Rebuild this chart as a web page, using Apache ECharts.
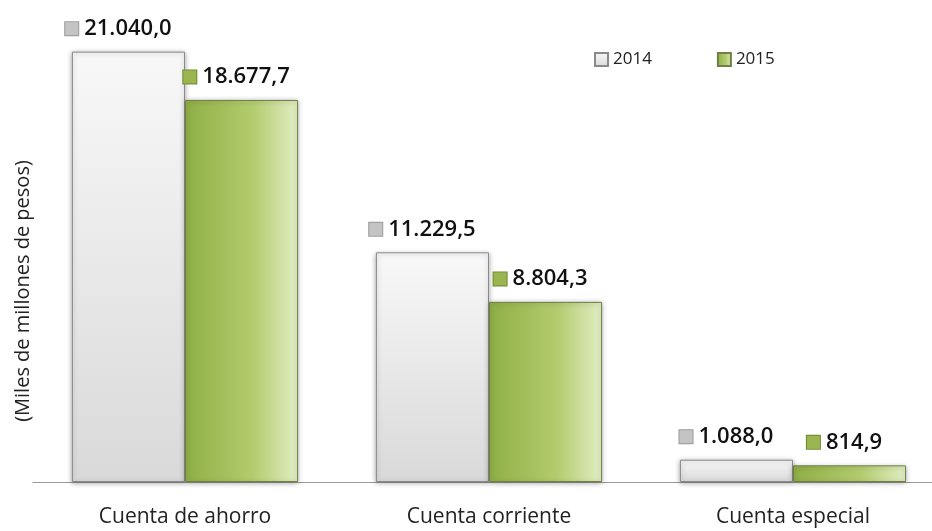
<!DOCTYPE html>
<html>
<head>
<meta charset="utf-8">
<script src="https://cdn.jsdelivr.net/npm/echarts@6/dist/echarts.min.js"></script>
<style>
  html, body { margin: 0; padding: 0; background: #fff; }
  #chart { width: 932px; height: 531px; }
</style>
</head>
<body>
<div id="chart"></div>
<script>
  var categories = ['Cuenta de ahorro', 'Cuenta corriente', 'Cuenta especial'];
  var seriesNames = ['2014', '2015'];
  var values2014 = [21040.0, 11229.5, 1088.0];
  var values2015 = [18677.7, 8804.3, 814.9];
  var yTitle = '(Miles de millones de pesos)';

  var font = '"Open Sans", sans-serif';

  // 21040 -> "21.040,0"
  function fmt(v) {
    var parts = v.toFixed(1).split('.');
    return parts[0].replace(/\B(?=(\d{3})+(?!\d))/g, '.') + ',' + parts[1];
  }

  var grayFill = new echarts.graphic.LinearGradient(0, 0, 0, 1, [
    {offset: 0, color: '#f8f8f8'},
    {offset: 1, color: '#d9d9d9'}
  ]);
  var greenFill = new echarts.graphic.LinearGradient(0, 0, 1, 0, [
    {offset: 0, color: '#8fae45'},
    {offset: 0.6, color: '#b3cc6e'},
    {offset: 1, color: '#e2edc4'}
  ]);

  function makeLabel(iconColor, iconBorder, dx) {
    return {
      show: true,
      position: 'top',
      distance: 12,
      offset: [dx, 0],
      formatter: function (p) { return '{i|}{v|' + fmt(p.value) + '}'; },
      rich: {
        i: {width: 13, height: 13, backgroundColor: iconColor, borderColor: iconBorder, borderWidth: 1},
        v: {fontFamily: font, fontSize: 22, fontWeight: 600, color: '#111', padding: [0, 0, 0, 6]}
      }
    };
  }

  var chart = echarts.init(document.getElementById('chart'));
  chart.setOption({
    animation: false,
    backgroundColor: '#fff',
    grid: {left: 33, width: 912, top: 32, bottom: 49, outerBoundsMode: 'none', containLabel: false},
    legend: {
      left: 594, top: 51, padding: 0,
      itemWidth: 13, itemHeight: 13, itemGap: 65,
      icon: 'rect',
      data: seriesNames,
      textStyle: {fontFamily: font, fontSize: 17, color: '#222'}
    },
    graphic: [{
      type: 'text',
      x: 23, y: 291,
      rotation: Math.PI / 2,
      style: {text: yTitle, font: '20px "Open Sans", sans-serif', fill: '#222',
        align: 'center', verticalAlign: 'middle'}
    }],
    xAxis: {
      type: 'category',
      data: categories,
      axisLine: {lineStyle: {color: '#999', width: 1}},
      axisTick: {show: false},
      axisLabel: {fontFamily: font, fontSize: 21, color: '#222', margin: 25}
    },
    yAxis: {
      type: 'value',
      min: 0, max: 22000,
      axisLine: {show: false},
      axisTick: {show: false},
      axisLabel: {show: false},
      splitLine: {show: false}
    },
    series: [
      {
        name: seriesNames[0],
        type: 'bar',
        data: values2014,
        barGap: 0,
        barCategoryGap: '25.6%',
        itemStyle: {color: grayFill, borderColor: '#8a8a8a', borderWidth: 1,
          shadowBlur: 5, shadowColor: 'rgba(0,0,0,0.3)', shadowOffsetY: 1},
        label: makeLabel('#c4c4c4', '#9a9a9a', -10)
      },
      {
        name: seriesNames[1],
        type: 'bar',
        data: values2015,
        itemStyle: {color: greenFill, borderColor: '#6f7f45', borderWidth: 1,
          shadowBlur: 5, shadowColor: 'rgba(0,0,0,0.3)', shadowOffsetY: 1},
        label: makeLabel('#9bb650', '#6f8a30', -5)
      }
    ],
    color: ['#d0d0d0', '#9bb650']
  });
</script>
</body>
</html>
